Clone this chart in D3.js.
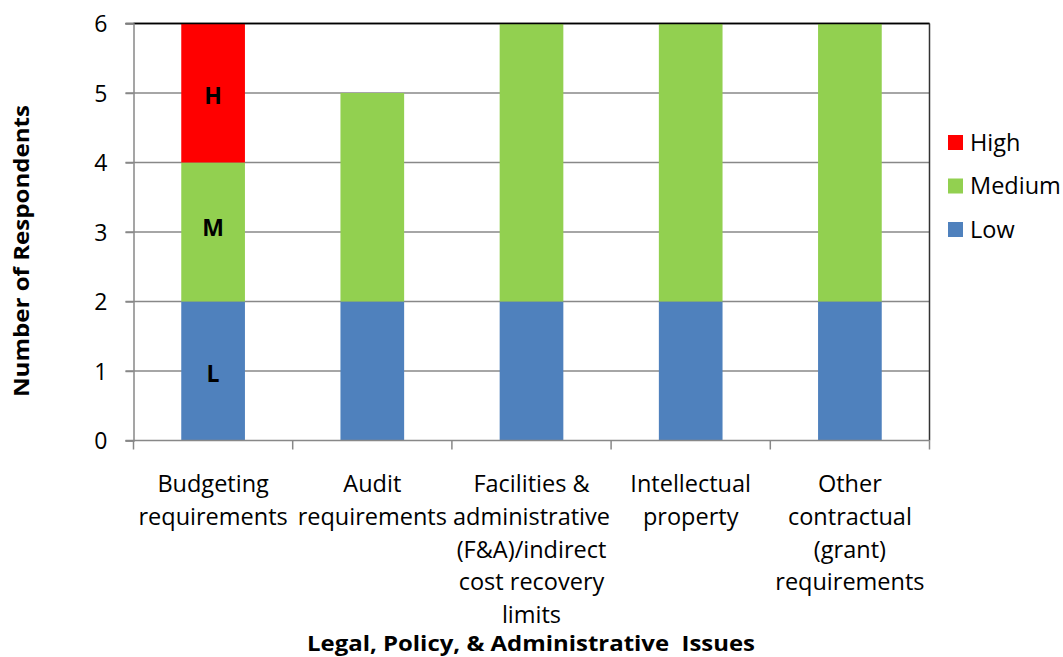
<!DOCTYPE html>
<html><head><meta charset="utf-8">
<script src="https://cdn.jsdelivr.net/npm/d3@7"></script>
<style>body{margin:0;background:#fff}svg{display:block}text{font-family:"Open Sans",sans-serif;fill:#000}</style>
</head><body><svg id="c" width="1063" height="657"></svg>
<script>
const categories = [
  ["Budgeting","requirements"],
  ["Audit","requirements"],
  ["Facilities &","administrative","(F&A)/indirect","cost recovery","limits"],
  ["Intellectual","property"],
  ["Other","contractual","(grant)","requirements"]
];
const lowVals = [2,2,2,2,2];
const mediumVals = [2,3,4,4,4];
const highVals = [2,0,0,0,0];
const seriesNames = ["Low","Medium","High"];
const seriesColors = ["#4F81BD","#92D050","#FF0000"];
const yTicks = [0,1,2,3,4,5,6];
const barLabels = [["L","M","H"],null,null,null,null];

const svg = d3.select("#c");
const m = {l:133.5, r:929.5, t:23.5, b:440.5};
const x = d3.scaleBand().domain(d3.range(categories.length)).range([m.l,m.r]).paddingInner(0.6).paddingOuter(0.3);
const y = d3.scaleLinear().domain([0,6]).range([m.b,m.t]);

// gridlines
svg.append("g").selectAll("line").data(yTicks.filter(d=>d>0)).join("line")
  .attr("x1",m.l-8).attr("x2",m.r).attr("y1",d=>y(d)).attr("y2",d=>y(d))
  .attr("stroke",d=>d===6?"#000":"#888").attr("stroke-width",1.5);

const rows = categories.map((c,i)=>({i, Low:lowVals[i], Medium:mediumVals[i], High:highVals[i]}));
const stack = d3.stack().keys(seriesNames)(rows);
stack.forEach((s,k)=>{
  svg.append("g").attr("fill",seriesColors[k]).selectAll("rect").data(s.filter(d=>d[1]>d[0])).join("rect")
    .attr("x",d=>x(d.data.i)).attr("width",x.bandwidth())
    .attr("y",d=>y(d[1])).attr("height",d=>y(d[0])-y(d[1]));
  svg.append("g").selectAll("text").data(s.filter(d=>barLabels[d.data.i] && d[1]>d[0])).join("text")
    .attr("x",d=>x(d.data.i)+x.bandwidth()/2).attr("y",d=>(y(d[0])+y(d[1]))/2+[11,4,11][k])
    .attr("text-anchor","middle").attr("font-weight","bold").attr("font-size",23)
    .text(d=>barLabels[d.data.i][k]);
});

// top line & right border
svg.append("line").attr("x1",m.l).attr("x2",m.r).attr("y1",y(6)).attr("y2",y(6)).attr("stroke","#000").attr("stroke-width",1.5);
svg.append("line").attr("x1",m.r).attr("x2",m.r).attr("y1",m.t).attr("y2",m.b).attr("stroke","#333").attr("stroke-width",1.5);

// y axis
const ya = svg.append("g").attr("transform",`translate(${m.l},0)`)
  .call(d3.axisLeft(y).tickValues(yTicks).tickSize(8).tickPadding(18).tickFormat(d3.format("d")));
ya.select(".domain").attr("stroke","#888").attr("stroke-width",1.5);
ya.selectAll(".tick line").attr("stroke","#888").attr("stroke-width",1.5);
ya.selectAll("text").attr("font-size",23).attr("font-family","Open Sans").attr("dy","0.35em");

// x axis baseline + ticks at band boundaries
const bounds = d3.range(categories.length+1).map(i=>m.l+(m.r-m.l)*i/categories.length);
svg.append("line").attr("x1",m.l-8).attr("x2",m.r).attr("y1",m.b).attr("y2",m.b).attr("stroke","#888").attr("stroke-width",1.5);
svg.append("g").selectAll("line").data(bounds).join("line")
  .attr("x1",d=>d).attr("x2",d=>d).attr("y1",m.b).attr("y2",m.b+9).attr("stroke","#888").attr("stroke-width",1.5);

// category labels
const cl = svg.append("g").selectAll("text").data(categories).join("text")
  .attr("text-anchor","middle").attr("font-size",23.5)
  .attr("transform",(d,i)=>`translate(${x(i)+x.bandwidth()/2},492)`);
cl.selectAll("tspan").data(d=>d).join("tspan").attr("x",0).attr("dy",(d,j)=>j===0?0:32.8).text(d=>d);

// axis titles
svg.append("text").attr("x",531).attr("y",651).attr("text-anchor","middle").attr("font-weight","bold").attr("font-size",21)
  .attr("xml:space","preserve").attr("textLength",448).attr("lengthAdjust","spacingAndGlyphs")
  .text("Legal, Policy, & Administrative  Issues");
svg.append("text").attr("transform","translate(29,251) rotate(-90)").attr("text-anchor","middle").attr("font-weight","bold").attr("font-size",21.5)
  .attr("textLength",292).attr("lengthAdjust","spacingAndGlyphs")
  .text("Number of Respondents");

// legend
const legendOrder = [2,1,0];
const lg = svg.append("g").selectAll("g").data(legendOrder).join("g")
  .attr("transform",(d,j)=>`translate(948,${142+j*43.5})`);
lg.append("rect").attr("x",0).attr("y",-7).attr("width",15).attr("height",15).attr("fill",d=>seriesColors[d]);
lg.append("text").attr("x",22).attr("y",8.5).attr("font-size",23.5).text(d=>seriesNames[d]);
</script></body></html>
